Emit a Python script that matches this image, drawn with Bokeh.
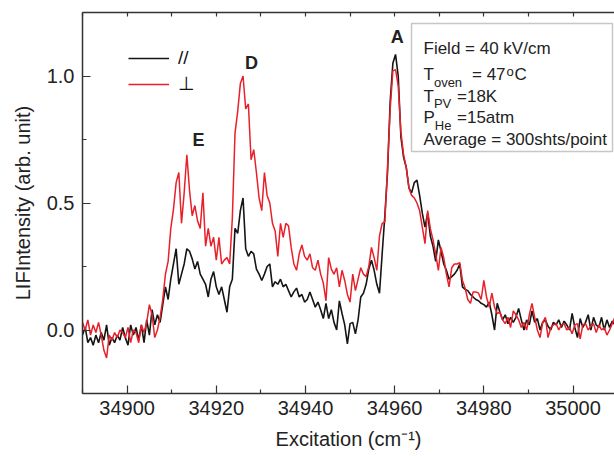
import numpy as np
from bokeh.plotting import figure
from bokeh.models import (Range1d, LinearAxis, FixedTicker, Label,
                          BoxAnnotation, Legend, LegendItem, PrintfTickFormatter)
from bokeh.embed import file_html
from bokeh.resources import INLINE

# ---- data ----
x_start = 34890.0
x_step = 0.6
parallel = [
    -0.02, 0.01, -0.05, -0.03, -0.06, -0.02, -0.05, -0.01, -0.04, 0.02,
    -0.06, -0.03, -0.05, -0.02, -0.04, 0.01, -0.03, -0.06, 0.02, -0.02,
    0.01, -0.04, 0.02, -0.05, 0.04, -0.02, 0.08, 0.02, 0.06, 0.03,
    0.10, 0.17, 0.12, 0.20, 0.26, 0.32, 0.18, 0.22, 0.26, 0.32,
    0.31, 0.28, 0.24, 0.27, 0.22, 0.20, 0.18, 0.13, 0.20, 0.23,
    0.17, 0.14, 0.17, 0.12, 0.07, 0.17, 0.20, 0.40, 0.38, 0.47,
    0.52, 0.32, 0.29, 0.31, 0.30, 0.24, 0.22, 0.195, 0.22, 0.25,
    0.26, 0.17, 0.19, 0.18, 0.20, 0.17, 0.18, 0.155, 0.13, 0.15,
    0.165, 0.13, 0.14, 0.11, 0.12, 0.15, 0.12, 0.09, 0.11, 0.08,
    0.045, 0.105, 0.045, 0.08, 0.03, 0.0, 0.115, 0.065, 0.02, -0.055,
    0.025, 0.03, -0.015, 0.04, 0.13, 0.145, 0.18, 0.24, 0.275, 0.235,
    0.18, 0.145, 0.30, 0.45, 0.62, 0.90, 1.05, 1.085, 1.0, 0.76,
    0.68, 0.64, 0.56, 0.54, 0.58, 0.59, 0.53, 0.46, 0.405, 0.46,
    0.37, 0.33, 0.27, 0.355, 0.31, 0.26, 0.235, 0.20, 0.21, 0.22,
    0.235, 0.26, 0.17, 0.16, 0.155, 0.14, 0.13, 0.12, 0.115, 0.105,
    0.10, 0.09, 0.11, 0.06, 0.0, 0.105, 0.07, 0.04, 0.06, 0.025,
    0.05, 0.03, 0.05, 0.085, 0.04, 0.0, 0.04, 0.02, 0.075, 0.03,
    0.045, 0.0, 0.03, 0.04, 0.015, 0.0, 0.03, 0.02, 0.04, 0.01,
    0.035, 0.02, 0.0, 0.065, 0.01, -0.03, 0.045, 0.01, 0.03, 0.06,
    0.0, 0.05, 0.02, 0.01, 0.05, 0.0, 0.04, 0.01, 0.035, 0.02,
]
perpendicular = [
    0.03, 0.0, 0.04, -0.02, 0.02, -0.01, 0.03, -0.02, -0.08, -0.11,
    -0.02, -0.04, -0.01, -0.03, 0.0, -0.01, -0.03, 0.01, -0.05, 0.0,
    -0.01, -0.05, 0.02, -0.01, 0.03, 0.10, 0.06, -0.03, 0.0, 0.05,
    0.12, 0.22, 0.27, 0.40, 0.475, 0.58, 0.62, 0.42, 0.54, 0.69,
    0.55, 0.45, 0.49, 0.43, 0.40, 0.54, 0.33, 0.40, 0.33, 0.365,
    0.275, 0.365, 0.26, 0.275, 0.285, 0.26, 0.44, 0.775, 0.86, 0.97,
    1.0, 0.87, 0.89, 0.67, 0.71, 0.62, 0.52, 0.47, 0.62, 0.53,
    0.50, 0.42, 0.39, 0.29, 0.42, 0.365, 0.42, 0.41, 0.325, 0.26,
    0.235, 0.30, 0.335, 0.29, 0.275, 0.30, 0.245, 0.235, 0.275, 0.22,
    0.185, 0.115, 0.285, 0.24, 0.22, 0.245, 0.17, 0.235, 0.195, 0.14,
    0.11, 0.22, 0.155, 0.20, 0.245, 0.22, 0.21, 0.25, 0.325, 0.285,
    0.235, 0.37, 0.42, 0.425, 0.64, 0.87, 1.02, 1.025, 0.96, 0.78,
    0.69, 0.64, 0.56, 0.53, 0.52, 0.50, 0.47, 0.405, 0.34, 0.47,
    0.40, 0.355, 0.30, 0.235, 0.325, 0.285, 0.22, 0.17, 0.245, 0.26,
    0.26, 0.265, 0.195, 0.165, 0.12, 0.105, 0.15, 0.15, 0.145, 0.12,
    0.195, 0.13, 0.09, 0.145, 0.09, 0.065, 0.07, 0.04, 0.025, 0.05,
    0.01, 0.075, 0.06, 0.04, 0.01, 0.03, 0.0, 0.06, 0.105, 0.05,
    0.0, -0.03, 0.03, 0.05, -0.03, 0.01, 0.02, 0.025, 0.0, 0.02,
    0.025, 0.0, 0.01, -0.015, 0.02, 0.025, -0.035, 0.02, 0.025, 0.0,
    0.015, 0.025, -0.01, 0.02, 0.0, 0.01, -0.02, 0.0, 0.025, 0.05,
]
excitation = x_start + x_step * np.arange(len(parallel))

x_ticks_major = [34900, 34920, 34940, 34960, 34980, 35000]
x_ticks_minor = [34890, 34910, 34930, 34950, 34970, 34990, 35010]
y_ticks_major = [0.0, 0.5, 1.0]
y_ticks_minor = [0.25, 0.75]
series_labels = ["//", "\u22a5"]
peak_labels = ["A", "D", "E"]
peak_x = [34960.6, 34927.9, 34916.0]
box_lines = ["Field = 40 kV/cm", "Average = 300shts/point"]

# ---- geometry ----
X0, X1 = 34890.0, 35009.3
Y0, Y1 = -0.25, 1.25
FL, FT, FW, FH = 82, 12, 532, 381   # frame left/top in page px, frame size

def dx(px):
    return X0 + (px - FL) * (X1 - X0) / FW

def dy(py):
    return Y1 - (py - FT) * (Y1 - Y0) / FH

FONT = "Liberation Sans"
TXT = "#222222"

p = figure(width=614, height=456, frame_width=FW, frame_height=FH,
           x_range=Range1d(X0, X1), y_range=Range1d(Y0, Y1),
           output_backend="svg", toolbar_location=None,
           min_border_left=FL, min_border_top=FT, min_border_right=0,
           min_border_bottom=60)
p.outline_line_color = None
p.grid.visible = False
p.background_fill_color = "white"

def style_axis(ax):
    ax.axis_line_color = "#333333"
    ax.axis_line_width = 1.5
    ax.major_tick_line_color = "#333333"
    ax.minor_tick_line_color = "#333333"
    ax.major_tick_line_width = 1.2
    ax.minor_tick_line_width = 1.2
    ax.major_tick_in = 8
    ax.major_tick_out = 0
    ax.minor_tick_in = 4
    ax.minor_tick_out = 0
    ax.major_label_text_font = FONT
    ax.major_label_text_color = TXT
    ax.axis_label_text_font = FONT
    ax.axis_label_text_font_style = "normal"
    ax.axis_label_text_color = TXT

xax = p.xaxis[0]
xax.ticker = FixedTicker(ticks=x_ticks_major, minor_ticks=x_ticks_minor)
xax.formatter = PrintfTickFormatter(format="%d")
style_axis(xax)
xax.major_label_text_font_size = "20px"
xax.major_label_standoff = 7
xax.axis_label = "Excitation (cm\u207b\u00b9)"
xax.axis_label_text_font_size = "20px"
xax.axis_label_standoff = 10

yax = p.yaxis[0]
yax.ticker = FixedTicker(ticks=y_ticks_major, minor_ticks=y_ticks_minor)
yax.formatter = PrintfTickFormatter(format="%.1f")
style_axis(yax)
yax.major_label_text_font_size = "20px"
yax.major_label_standoff = 8
yax.axis_label = "LIFIntensity (arb. unit)"
yax.axis_label_text_font_size = "20px"
yax.axis_label_standoff = 10

# top border with small ticks only (no labels)
top = LinearAxis(ticker=FixedTicker(ticks=[], minor_ticks=x_ticks_major + x_ticks_minor))
style_axis(top)
top.minor_tick_in = 4
p.add_layout(top, "above")

r_par = p.line(excitation, parallel, line_color="#151515", line_width=1.6)
r_perp = p.line(excitation, perpendicular, line_color="#e8202a", line_width=1.5)

legend = Legend(items=[LegendItem(label=series_labels[0], renderers=[r_par]),
                       LegendItem(label=series_labels[1], renderers=[r_perp])],
                location=(46, 298), orientation="vertical",
                padding=0, margin=0, spacing=3,
                glyph_width=41, glyph_height=20, label_height=20,
                label_standoff=9, border_line_alpha=0, background_fill_alpha=0,
                label_text_font=FONT, label_text_font_size="19px",
                label_text_color="#111111")
p.add_layout(legend, "center")

# peak letters (y = visual centre of the capitals)
for lab_, px_, py_ in zip(peak_labels, peak_x, [36.5, 62.5, 139.5]):
    p.add_layout(Label(x=px_, y=dy(py_), text=lab_, text_font=FONT,
                       text_font_size="18px", text_font_style="bold",
                       text_color=TXT, text_align="center",
                       text_baseline="alphabetic"))

# info box
p.add_layout(BoxAnnotation(left=dx(411), right=dx(612), top=dy(23), bottom=dy(151),
                           fill_alpha=0, line_color="#444444", line_width=1.5))

def lab(text, px_, py_, size):
    p.add_layout(Label(x=dx(px_), y=dy(py_), text=text, text_font=FONT,
                       text_font_size=size, text_color=TXT, text_align="left",
                       text_baseline="alphabetic"))

BIG, SMALL = "17px", "13px"
lab(box_lines[0], 423, 48, BIG)
lab("T", 423, 73.5, BIG)
lab("oven", 433.4, 81.7, SMALL)
lab("= 47", 471.5, 73.5, BIG)
lab("o", 506, 70.5, SMALL)
lab("C", 514, 73.5, BIG)
lab("T", 423, 95.5, BIG)
lab("PV", 433.4, 103.3, SMALL)
lab("=18K", 456.5, 95.5, BIG)
lab("P", 423, 116.5, BIG)
lab("He", 434.3, 125, SMALL)
lab("=15atm", 456.5, 116.5, BIG)
lab(box_lines[1], 423, 138.5, BIG)

open("out.html", "w").write(file_html(p, INLINE))
